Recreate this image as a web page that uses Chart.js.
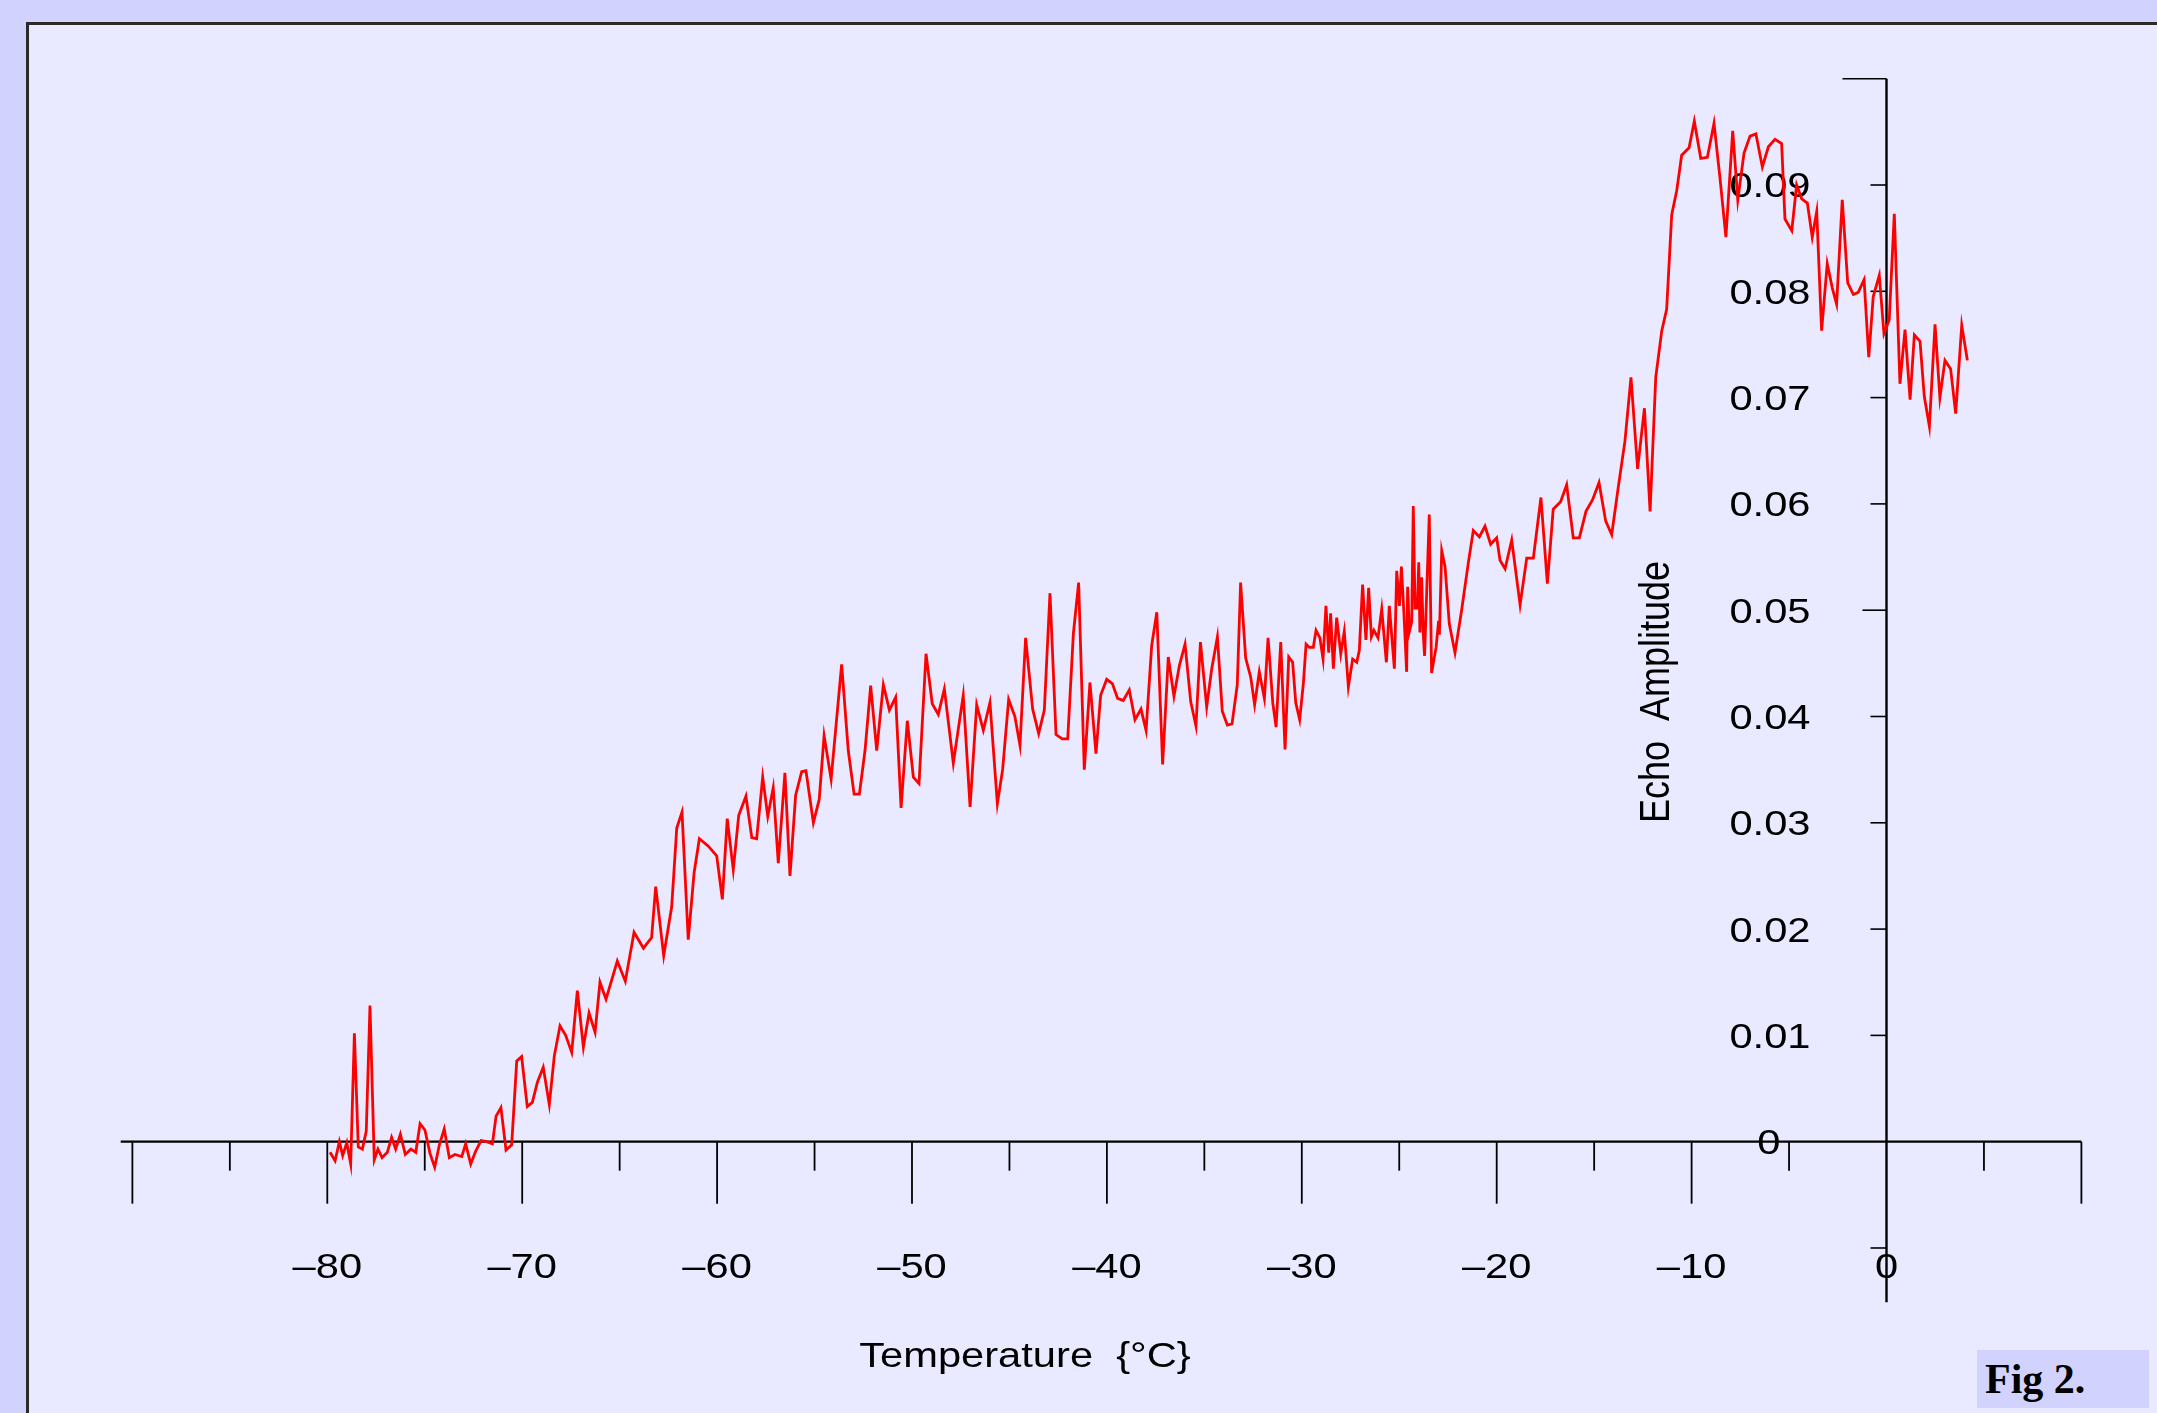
<!DOCTYPE html>
<html>
<head>
<meta charset="utf-8">
<script src="https://cdn.jsdelivr.net/npm/chart.js@4.4.1/dist/chart.umd.min.js"></script>
<style>
  html, body { margin: 0; padding: 0; background: #d2d2ff; }
  #wrap { position: relative; width: 2157px; height: 1413px; overflow: hidden; background: #d2d2ff; }
  #panel { position: absolute; left: 26px; top: 22px; width: 2300px; height: 1600px;
           background: #e9e9ff; border-left: 3px solid #2a2a2a; border-top: 3px solid #2a2a2a; }
  #chart { position: absolute; left: 0; top: 0; }
  #fig { position: absolute; left: 1977px; top: 1350px; width: 172px; height: 58px; background: #d2d2ff;
         font: bold 42px "Liberation Serif", "Times New Roman", serif; color: #000;
         line-height: 58px; padding-left: 8px; box-sizing: border-box; }
</style>
</head>
<body>
<div id="wrap">
  <div id="panel"></div>
  <canvas id="chart" width="2157" height="1413"></canvas>
  <div id="fig">Fig 2.</div>
</div>
<script>
// Temperature (°C) and echo amplitude
const temps = [
  -79.86, -79.60, -79.38, -79.21, -79.00, -78.80, -78.61, -78.41, -78.20, -78.00,
  -77.81, -77.59, -77.40, -77.19, -76.92, -76.70, -76.49, -76.25, -76.00, -75.71,
  -75.46, -75.24, -74.99, -74.73, -74.49, -74.25, -74.00, -73.74, -73.45, -73.10,
  -72.90, -72.64, -72.39, -72.11, -71.82, -71.53, -71.34, -71.09, -70.83, -70.54,
  -70.28, -70.03, -69.74, -69.48, -69.22, -68.92, -68.61, -68.35, -68.06, -67.77,
  -67.46, -67.17, -66.86, -66.57, -66.26, -66.01, -65.70, -65.41, -65.12, -64.71,
  -64.26, -63.78, -63.36, -63.15, -62.74, -62.33, -62.07, -61.80, -61.48, -61.18,
  -60.91, -60.45, -60.02, -59.73, -59.48, -59.17, -58.89, -58.52, -58.22, -57.97,
  -57.66, -57.40, -57.12, -56.86, -56.52, -56.26, -55.97, -55.66, -55.44, -55.06,
  -54.76, -54.51, -54.15, -53.61, -53.27, -52.97, -52.70, -52.41, -52.12, -51.81,
  -51.47, -51.16, -50.84, -50.56, -50.24, -49.93, -49.64, -49.28, -48.96, -48.65,
  -48.34, -47.88, -47.37, -47.02, -46.68, -46.34, -46.00, -45.62, -45.35, -45.04,
  -44.72, -44.46, -44.17, -43.81, -43.50, -43.21, -42.92, -42.61, -42.29, -42.01,
  -41.72, -41.45, -41.16, -40.87, -40.56, -40.32, -40.01, -39.72, -39.45, -39.16,
  -38.85, -38.56, -38.25, -37.99, -37.70, -37.44, -37.14, -36.85, -36.56, -36.28,
  -35.99, -35.70, -35.43, -35.20, -34.88, -34.62, -34.33, -34.08, -33.82, -33.58,
  -33.31, -33.14, -32.88, -32.62, -32.42, -32.18, -31.92, -31.73, -31.49, -31.32,
  -31.08, -30.86, -30.67, -30.47, -30.31, -30.11, -29.92, -29.78, -29.61, -29.41,
  -29.27, -29.07, -28.91, -28.76, -28.62, -28.52, -28.38, -28.21, -28.00, -27.82,
  -27.61, -27.39, -27.18, -27.05, -26.88, -26.71, -26.57, -26.43, -26.30, -26.09,
  -25.90, -25.66, -25.51, -25.25, -25.13, -24.99, -24.89, -24.76, -24.62, -24.57,
  -24.48, -24.36, -24.28, -24.19, -24.07, -24.00, -23.94, -23.85, -23.77, -23.70,
  -23.46, -23.34, -23.11, -22.98, -22.94, -22.82, -22.65, -22.43, -22.14, -21.80,
  -21.46, -21.20, -20.89, -20.60, -20.31, -20.00, -19.83, -19.57, -19.23, -18.80,
  -18.46, -18.12, -17.73, -17.40, -17.10, -16.72, -16.41, -16.07, -15.76, -15.42,
  -15.08, -14.75, -14.41, -14.10, -13.76, -13.42, -13.11, -12.77, -12.42, -12.13,
  -11.84, -11.53, -11.28, -11.02, -10.76, -10.51, -10.13, -9.86, -9.53, -9.19,
  -8.85, -8.54, -8.24, -7.89, -7.63, -7.31, -7.00, -6.70, -6.37, -6.06,
  -5.72, -5.38, -5.21, -4.86, -4.61, -4.35, -4.06, -3.81, -3.58, -3.33,
  -3.04, -2.78, -2.56, -2.27, -1.99, -1.70, -1.45, -1.15, -0.91, -0.68,
  -0.37, -0.13, 0.14, 0.40, 0.69, 0.95, 1.21, 1.43, 1.72, 1.94,
  2.20, 2.49, 2.74, 3.00, 3.29, 3.55, 3.86, 4.15
];
const amps = [
  -0.0010, -0.0018, 0.0000, -0.0013, -0.0001, -0.0021, 0.0102, -0.0005, -0.0007, 0.0010,
  0.0128, -0.0017, -0.0007, -0.0015, -0.0010, 0.0004, -0.0007, 0.0007, -0.0012, -0.0007,
  -0.0010, 0.0017, 0.0011, -0.0011, -0.0024, -0.0003, 0.0012, -0.0015, -0.0012, -0.0014,
  -0.0002, -0.0021, -0.0009, 0.0001, 0.0000, -0.0002, 0.0024, 0.0032, -0.0008, -0.0003,
  0.0076, 0.0080, 0.0033, 0.0037, 0.0056, 0.0070, 0.0035, 0.0081, 0.0109, 0.0100,
  0.0084, 0.0142, 0.0089, 0.0121, 0.0103, 0.0150, 0.0134, 0.0152, 0.0170, 0.0151,
  0.0197, 0.0182, 0.0192, 0.0240, 0.0175, 0.0221, 0.0295, 0.0310, 0.0190, 0.0253,
  0.0285, 0.0278, 0.0269, 0.0228, 0.0304, 0.0256, 0.0307, 0.0325, 0.0286, 0.0285,
  0.0343, 0.0306, 0.0333, 0.0262, 0.0347, 0.0250, 0.0326, 0.0348, 0.0349, 0.0300,
  0.0322, 0.0382, 0.0341, 0.0449, 0.0368, 0.0327, 0.0327, 0.0368, 0.0429, 0.0368,
  0.0430, 0.0406, 0.0418, 0.0314, 0.0396, 0.0343, 0.0337, 0.0459, 0.0412, 0.0402,
  0.0426, 0.0356, 0.0420, 0.0315, 0.0411, 0.0387, 0.0413, 0.0318, 0.0350, 0.0416,
  0.0400, 0.0373, 0.0474, 0.0407, 0.0384, 0.0406, 0.0516, 0.0383, 0.0379, 0.0379,
  0.0478, 0.0526, 0.0350, 0.0432, 0.0365, 0.0420, 0.0435, 0.0431, 0.0417, 0.0415,
  0.0425, 0.0397, 0.0407, 0.0387, 0.0467, 0.0498, 0.0355, 0.0456, 0.0419, 0.0448,
  0.0468, 0.0414, 0.0391, 0.0470, 0.0409, 0.0445, 0.0475, 0.0405, 0.0392, 0.0393,
  0.0430, 0.0526, 0.0455, 0.0437, 0.0411, 0.0442, 0.0417, 0.0474, 0.0413, 0.0390,
  0.0470, 0.0369, 0.0456, 0.0451, 0.0413, 0.0397, 0.0431, 0.0468, 0.0465, 0.0465,
  0.0481, 0.0474, 0.0454, 0.0504, 0.0460, 0.0497, 0.0445, 0.0493, 0.0459, 0.0480,
  0.0428, 0.0454, 0.0451, 0.0462, 0.0524, 0.0472, 0.0521, 0.0475, 0.0481, 0.0474,
  0.0501, 0.0451, 0.0504, 0.0445, 0.0537, 0.0504, 0.0541, 0.0497, 0.0442, 0.0522,
  0.0480, 0.0489, 0.0598, 0.0502, 0.0502, 0.0545, 0.0479, 0.0531, 0.0478, 0.0457,
  0.0590, 0.0441, 0.0465, 0.0490, 0.0477, 0.0556, 0.0541, 0.0487, 0.0460, 0.0500,
  0.0544, 0.0575, 0.0569, 0.0579, 0.0562, 0.0568, 0.0547, 0.0539, 0.0566, 0.0505,
  0.0549, 0.0549, 0.0606, 0.0525, 0.0595, 0.0602, 0.0618, 0.0568, 0.0568, 0.0593,
  0.0604, 0.0620, 0.0584, 0.0571, 0.0616, 0.0659, 0.0719, 0.0633, 0.0690, 0.0593,
  0.0719, 0.0763, 0.0783, 0.0872, 0.0895, 0.0928, 0.0935, 0.0960, 0.0925, 0.0926,
  0.0958, 0.0906, 0.0851, 0.0951, 0.0886, 0.0930, 0.0946, 0.0948, 0.0917, 0.0936,
  0.0943, 0.0939, 0.0868, 0.0857, 0.0900, 0.0887, 0.0883, 0.0851, 0.0875, 0.0763,
  0.0826, 0.0803, 0.0788, 0.0886, 0.0808, 0.0797, 0.0799, 0.0811, 0.0738, 0.0795,
  0.0815, 0.0760, 0.0773, 0.0873, 0.0713, 0.0764, 0.0698, 0.0759, 0.0753, 0.0701,
  0.0673, 0.0769, 0.0700, 0.0735, 0.0727, 0.0685, 0.0768, 0.0735
];

// Axis ticks and labels
const xMajorTicks = [-90, -80, -70, -60, -50, -40, -30, -20, -10, 10];
const xMinorTicks = [-85, -75, -65, -55, -45, -35, -25, -15, -5, 5];
const xLabelVals = [-80, -70, -60, -50, -40, -30, -20, -10, 0];
const xLabels = ['\u201380', '\u201370', '\u201360', '\u201350', '\u201340', '\u201330', '\u201320', '\u201310', '0'];
const yTickVals = [-0.01, 0.01, 0.02, 0.03, 0.04, 0.05, 0.06, 0.07, 0.08, 0.09, 0.1];
const yLabelVals = [0.01, 0.02, 0.03, 0.04, 0.05, 0.06, 0.07, 0.08, 0.09];
const yLabels = ['0.01', '0.02', '0.03', '0.04', '0.05', '0.06', '0.07', '0.08', '0.09'];
const xTitle = 'Temperature  {\u00b0C}';
const yTitle = 'Echo  Amplitude';

const STRETCH = 1.19; // the original plot is widened horizontally
const FONT = '"Liberation Sans", Arial, sans-serif';

function stretchedText(ctx, text, x, y, align) {
  ctx.save();
  ctx.translate(x, y);
  ctx.scale(STRETCH, 1);
  ctx.textAlign = align;
  ctx.textBaseline = 'alphabetic';
  ctx.fillText(text, 0, 0);
  ctx.restore();
}

const crossAxes = {
  id: 'crossAxes',
  beforeDatasetsDraw(chart) {
    const { ctx, scales: { x, y } } = chart;
    const x0 = x.getPixelForValue(0);
    const y0 = y.getPixelForValue(0);
    ctx.save();
    ctx.strokeStyle = '#000';
    ctx.fillStyle = '#000';

    // axis lines
    ctx.lineWidth = 2.2;
    ctx.beginPath();
    ctx.moveTo(x.getPixelForValue(x.min), y0);
    ctx.lineTo(x.getPixelForValue(x.max), y0);
    ctx.stroke();
    ctx.lineWidth = 2.4;
    ctx.beginPath();
    ctx.moveTo(x0, y.getPixelForValue(y.max));
    ctx.lineTo(x0, y.getPixelForValue(y.min));
    ctx.stroke();

    // x ticks, hanging below the axis
    ctx.lineWidth = 1.8;
    xMajorTicks.forEach(v => {
      const px = x.getPixelForValue(v);
      ctx.beginPath(); ctx.moveTo(px, y0); ctx.lineTo(px, y0 + 62); ctx.stroke();
    });
    xMinorTicks.forEach(v => {
      const px = x.getPixelForValue(v);
      ctx.beginPath(); ctx.moveTo(px, y0); ctx.lineTo(px, y0 + 29); ctx.stroke();
    });

    // y ticks, pointing left
    ctx.lineWidth = 1.6;
    yTickVals.forEach(v => {
      const py = y.getPixelForValue(v);
      const len = Math.abs(v - 0.1) < 1e-9 ? 44 : (Math.abs(v - 0.05) < 1e-9 ? 24 : 16);
      ctx.beginPath(); ctx.moveTo(x0 - len, py); ctx.lineTo(x0, py); ctx.stroke();
    });

    // tick labels
    ctx.font = '35px ' + FONT;
    xLabelVals.forEach((v, i) => {
      stretchedText(ctx, xLabels[i], x.getPixelForValue(v), y0 + 136, 'center');
    });
    yLabelVals.forEach((v, i) => {
      stretchedText(ctx, yLabels[i], x0 - 76, y.getPixelForValue(v) + 12.5, 'right');
    });
    stretchedText(ctx, '0', x0 - 106, y0 + 12.5, 'right');

    // axis titles
    stretchedText(ctx, xTitle, 1025, 1367, 'center');
    ctx.save();
    ctx.translate(1669, 692);
    ctx.scale(STRETCH, 1);
    ctx.rotate(-Math.PI / 2);
    ctx.font = '36px ' + FONT;
    ctx.textAlign = 'center';
    ctx.textBaseline = 'alphabetic';
    ctx.fillText(yTitle, 0, 0);
    ctx.restore();

    ctx.restore();
  }
};

const points = temps.map((t, i) => ({ x: t, y: amps[i] }));

new Chart(document.getElementById('chart').getContext('2d'), {
  type: 'line',
  data: {
    datasets: [{
      data: points,
      borderColor: '#ff0000',
      borderWidth: 2.8,
      pointRadius: 0,
      tension: 0,
      fill: false
    }]
  },
  options: {
    responsive: false,
    animation: false,
    devicePixelRatio: 1,
    layout: { padding: { left: 120.7, right: 75.6, top: 78.7, bottom: 110.8 } },
    scales: {
      x: { type: 'linear', min: -90.6, max: 10, display: false },
      y: { type: 'linear', min: -0.0151, max: 0.1, display: false }
    },
    plugins: {
      legend: { display: false },
      tooltip: { enabled: false }
    }
  },
  plugins: [crossAxes]
});
</script>
</body>
</html>
